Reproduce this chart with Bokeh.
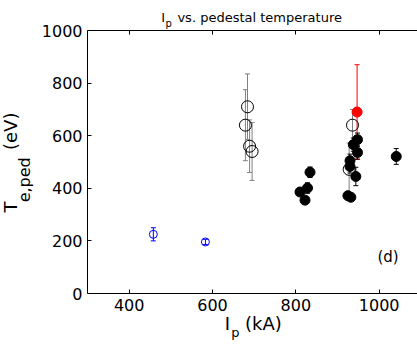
from bokeh.plotting import figure
from bokeh.models import ColumnDataSource, Whisker, Label, LinearAxis, Range1d, FixedTicker, TeeHead, Title
from bokeh.embed import file_html
from bokeh.resources import INLINE

# ---- data ----
# filled black points
fill_ip = [810, 822, 828, 834, 925, 932, 930, 930, 938, 944, 948, 948, 1041]
fill_te = [386, 355, 401, 461, 372, 366, 483, 505, 566, 445, 536, 585, 521]
fill_err = [12, 10, 20, 20, 12, 12, 25, 25, 25, 35, 25, 25, 30]
# open black points
open_ip = [679, 684, 689, 695, 928, 936]
open_te = [640, 710, 560, 540, 472, 640]
open_err = [135, 125, 100, 110, 100, 60]
# blue open points
blue_ip = [458, 583]
blue_te = [225, 196]
blue_err = [25, 10]
# red point
red_ip = [947]
red_te = [690]
red_err = [180]

x_ticks = [400, 600, 800, 1000]
y_ticks = [0, 200, 400, 600, 800, 1000]

FONT = "DejaVu Sans"
NB = "\u00a0"
TH = "\u2009"
W, H = 417, 345
L, T, B = 87, 30, 52

p = figure(width=W, height=H, output_backend="svg", toolbar_location=None,
           x_range=Range1d(300, 1092), y_range=Range1d(0, 1000),
           min_border_left=L, min_border_right=0, min_border_top=T, min_border_bottom=B)
p.title.visible = False
p.outline_line_color = None
p.grid.visible = False
p.background_fill_color = "white"
p.border_fill_color = "white"

for ax in p.xaxis + p.yaxis:
    ax.major_tick_in = 4
    ax.major_tick_out = 0
    ax.minor_tick_in = 0
    ax.minor_tick_out = 0
    ax.axis_line_color = "black"
    ax.major_tick_line_color = "black"
    ax.major_label_text_font = FONT
    ax.major_label_text_font_size = "16px"
    ax.major_label_text_color = "black"
    ax.major_label_standoff = 5
p.xaxis.ticker = FixedTicker(ticks=x_ticks)
p.yaxis.ticker = FixedTicker(ticks=y_ticks)

# y label subscript carried by the left axis label (padded so it sits below centre)
p.yaxis.axis_label = "e,ped" + NB * 7
p.yaxis.axis_label_text_font = FONT
p.yaxis.axis_label_text_font_size = "16px"
p.yaxis.axis_label_text_font_style = "normal"
p.yaxis.axis_label_text_color = "black"
p.yaxis.axis_label_standoff = 5

top = LinearAxis(ticker=FixedTicker(ticks=x_ticks), major_tick_in=4, major_tick_out=0,
                 minor_tick_in=0, minor_tick_out=0, major_label_text_font_size="0px",
                 major_label_text_color=None, major_label_text_alpha=0,
                 major_label_standoff=0, axis_line_color="black")
p.add_layout(top, "above")


def add_err(xs, ys, es, color):
    src = ColumnDataSource(dict(x=xs, lo=[y - e for y, e in zip(ys, es)], hi=[y + e for y, e in zip(ys, es)]))
    w = Whisker(base="x", lower="lo", upper="hi", source=src, dimension="height",
                line_color=color, line_width=1,
                upper_head=TeeHead(size=5, line_color=color, line_width=1),
                lower_head=TeeHead(size=5, line_color=color, line_width=1))
    p.add_layout(w)


add_err(open_ip, open_te, open_err, "#808080")
add_err(blue_ip, blue_te, blue_err, "#0000ff")
add_err(red_ip, red_te, red_err, "#ff0000")
add_err(fill_ip, fill_te, fill_err, "black")

p.scatter(open_ip, open_te, size=12, marker="circle", fill_color=None, line_color="black", line_width=1)
p.scatter(blue_ip, blue_te, size=8, marker="circle", fill_color=None, line_color="#0000ff", line_width=1)
p.scatter(fill_ip, fill_te, size=10, marker="circle", fill_color="black", line_color="black")
p.scatter(red_ip, red_te, size=10, marker="circle", fill_color="#ff0000", line_color="#ff0000")


def title(text, side, size, offset, standoff, valign):
    p.add_layout(Title(text=text, align="left", offset=offset, standoff=standoff,
                       vertical_align=valign, text_font=FONT, text_font_size=f"{size}px",
                       text_font_style="normal", text_color="black"), side)


# title (above): inner subscript, outer main line
title("p", "above", 10, 78, -0.7, "top")
title("I" + NB * 3 + "vs. pedestal temperature", "above", 13, 73.7, -16.0, "top")
# y label (left): main text outside the axis label
title("T" + NB * 9 + "(eV)", "left", 18, 81, -22.9, "top")
# x label (below): inner main, outer subscript
title("I" + NB * 2 + TH + "(kA)", "below", 18, 137.2, -4.6, "bottom")
title("p", "below", 13, 143.8, -17.1, "bottom")

# panel tag
p.add_layout(Label(x=996, y=140, text="(d)", text_font=FONT, text_font_size="15px",
                   text_color="black", text_align="left", text_baseline="alphabetic"))

open("out.html", "w").write(file_html(p, INLINE))
